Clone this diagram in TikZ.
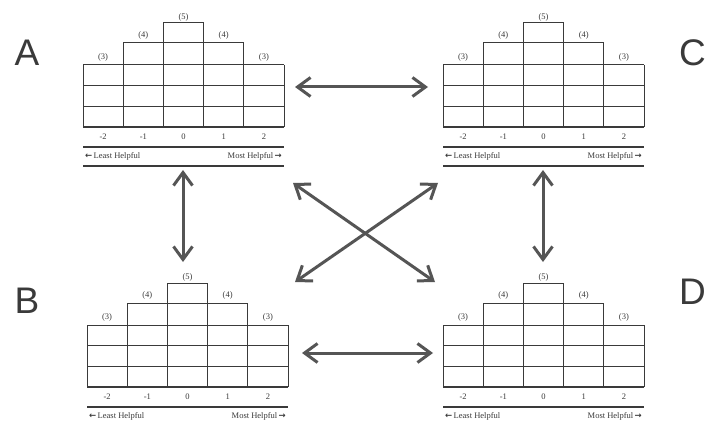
\documentclass[tikz,border=0pt]{standalone}
\usepackage{fontspec}
\setmainfont{Liberation Serif}
\newfontfamily\letterfont{Liberation Sans}
\newfontfamily\symfont{DejaVu Sans}
\usetikzlibrary{arrows.meta}
\definecolor{ink}{HTML}{3A3A3A}
\definecolor{arrowgray}{HTML}{555555}
\tikzset{
  cell/.style={draw=ink, line width=1pt},
  rule/.style={draw=ink, line width=1.4pt},
  small/.style={font=\fontsize{8.5}{9}\selectfont, text=ink, inner sep=0pt},
  panelletter/.style={font=\letterfont\fontsize{37}{37}\selectfont, text=ink, inner sep=0pt},
  link/.style={draw=arrowgray, line width=3pt, {Straight Barb[length=13pt,width=19pt]}-{Straight Barb[length=13pt,width=19pt]}},
  % one rating grid: 5 columns holding 3,4,5,4,3 cells, with its scale below
  likert/.pic={
    \draw[cell] (0,0) -- (201,0) (0,20.7) -- (201,20.7) (0,41.4) -- (201,41.4);
    \draw[cell] (0,0) -- (0,62) (201,0) -- (201,62);
    \draw[cell] (40.2,62) -- (40.2,-22) -- (160.8,-22) -- (160.8,62);
    \draw[cell] (80.4,62) -- (80.4,-42) -- (120.6,-42) -- (120.6,62);
    \draw[rule] (0,62) -- (201,62);
    \foreach \x/\t/\y [count=\i] in {20.1/(3)/-8, 60.3/(4)/-30, 100.5/(5)/-48, 140.7/(4)/-30, 180.9/(3)/-8}
      \node[small] (-cap\i) at (\x,\y) {\t};
    \foreach \x/\t [count=\i] in {20.1/-2, 60.3/-1, 100.5/0, 140.7/1, 180.9/2}
      \node[small] (-val\i) at (\x,72) {\t};
    \draw[rule] (0,82) -- (201,82);
    \node[small, anchor=west] (-least) at (2,91) {{\symfont\bfseries ←}\,Least Helpful};
    \node[small, anchor=east] (-most) at (199,91) {Most Helpful\,{\symfont\bfseries →}};
    \draw[rule] (0,101) -- (201,101);
  }
}
\begin{document}
\begin{tikzpicture}[x=1pt, y=-1pt]
  \useasboundingbox (0,0) rectangle (707,425);
  \fill[white] (0,0) rectangle (707,425);

  % the four grids
  \pic (A) at (83,65) {likert};
  \pic (C) at (443,65) {likert};
  \pic (B) at (87,325) {likert};
  \pic (D) at (443,325) {likert};

  % panel letters
  \node[panelletter] (labA) at (27,53) {A};
  \node[panelletter] (labB) at (27,301) {B};
  \node[panelletter, anchor=east] (labC) at (706,53) {C};
  \node[panelletter, anchor=east] (labD) at (706,292) {D};

  % arrow end points
  \coordinate (A-east) at (295,87);
  \coordinate (C-west) at (428,87);
  \coordinate (B-east) at (302,353);
  \coordinate (D-west) at (433,353);
  \coordinate (A-south) at (183,170);
  \coordinate (B-north) at (183,262);
  \coordinate (C-south) at (543,170);
  \coordinate (D-north) at (543,262);
  \coordinate (A-corner) at (293,183);
  \coordinate (D-corner) at (435,282);
  \coordinate (C-corner) at (438,183);
  \coordinate (B-corner) at (295,282);

  % connections between the grids
  \draw[link] (A-east) -- (C-west);
  \draw[link] (B-east) -- (D-west);
  \draw[link] (A-south) -- (B-north);
  \draw[link] (C-south) -- (D-north);
  \draw[link] (A-corner) -- (D-corner);
  \draw[link] (C-corner) -- (B-corner);
\end{tikzpicture}
\end{document}
